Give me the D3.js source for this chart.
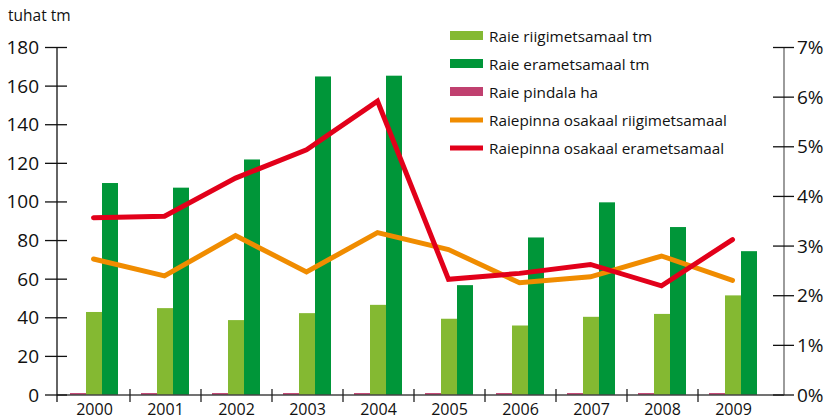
<!DOCTYPE html>
<html>
<head>
<meta charset="utf-8">
<script src="https://cdn.jsdelivr.net/npm/d3@7"></script>
<style>
  body { margin: 0; background: #fff; }
  text { font-family: "Open Sans", "DejaVu Sans", sans-serif; fill: #111; }
</style>
</head>
<body>
<svg id="chart" width="827" height="419"></svg>
<script>
const years = ["2000", "2001", "2002", "2003", "2004", "2005", "2006", "2007", "2008", "2009"];
const raieRiik = [43, 45, 38.8, 42.4, 46.7, 39.5, 36, 40.5, 42, 51.6];
const raieEra = [109.8, 107.4, 122, 165, 165.4, 56.9, 81.6, 99.8, 87, 74.5];
const raiePindala = [1, 1, 1, 1, 1, 1, 1, 1, 1, 1];
const osakaalRiik = [2.74, 2.40, 3.21, 2.48, 3.27, 2.93, 2.26, 2.38, 2.80, 2.31];
const osakaalEra = [3.57, 3.60, 4.37, 4.94, 5.92, 2.33, 2.45, 2.63, 2.20, 3.13];
const leftTicks = [0, 20, 40, 60, 80, 100, 120, 140, 160, 180];
const rightTicks = [0, 1, 2, 3, 4, 5, 6, 7];

const colors = {
  riik: "#84b932",
  era: "#009639",
  pind: "#c0406f",
  oRiik: "#f08c00",
  oEra: "#e2001a"
};

const svg = d3.select("#chart");

const x = d3.scaleBand().domain(years).range([59, 769]).padding(0);
const yL = d3.scaleLinear().domain([0, 180]).range([395, 47.5]);
const yR = d3.scaleLinear().domain([0, 7]).range([395, 47.5]);

const series = ["pind", "riik", "era"];
const xs = d3.scaleBand().domain(series).range([11, 59]).padding(0);

const barData = years.map((yr, i) => ({ yr, pind: raiePindala[i], riik: raieRiik[i], era: raieEra[i] }));

// bars
const groups = svg.append("g").selectAll("g").data(barData).enter().append("g")
  .attr("transform", d => `translate(${x(d.yr)},0)`);
series.forEach(s => {
  groups.append("rect")
    .attr("x", xs(s))
    .attr("width", xs.bandwidth())
    .attr("y", d => yL(d[s]))
    .attr("height", d => yL(0) - yL(d[s]))
    .attr("fill", colors[s]);
});

// x axis line and ticks
svg.append("line").attr("x1", 57).attr("x2", 784).attr("y1", 395).attr("y2", 395)
  .attr("stroke", "#444").attr("stroke-width", 1.3);
svg.append("g").selectAll("line").data(years.slice(1)).enter().append("line")
  .attr("x1", d => x(d)).attr("x2", d => x(d))
  .attr("y1", 389).attr("y2", 402)
  .attr("stroke", "#222").attr("stroke-width", 1.3);
svg.append("g").selectAll("text").data(years).enter().append("text")
  .attr("x", d => x(d) + x.bandwidth() / 2)
  .attr("y", 415)
  .attr("text-anchor", "middle")
  .attr("font-size", 16)
  .text(d => d);

// left axis
const gl = svg.append("g");
gl.append("line").attr("x1", 57).attr("x2", 57).attr("y1", 47.5).attr("y2", 402)
  .attr("stroke", "#111").attr("stroke-width", 1.3);
gl.selectAll("line.t").data(leftTicks).enter().append("line").attr("class", "t")
  .attr("x1", 45).attr("x2", 67)
  .attr("y1", d => yL(d)).attr("y2", d => yL(d))
  .attr("stroke", "#111").attr("stroke-width", 1.3);
gl.selectAll("text").data(leftTicks).enter().append("text")
  .attr("x", 39).attr("y", d => yL(d) + 6.5)
  .attr("text-anchor", "end")
  .attr("font-size", 19)
  .text(d => d);
svg.append("text").attr("x", 8).attr("y", 21).attr("font-size", 15.5).text("tuhat tm");

// right axis
const gr = svg.append("g");
gr.append("line").attr("x1", 784).attr("x2", 784).attr("y1", 47.5).attr("y2", 395)
  .attr("stroke", "#666").attr("stroke-width", 1.3);
gr.selectAll("line.t").data(rightTicks).enter().append("line").attr("class", "t")
  .attr("x1", 773).attr("x2", 794)
  .attr("y1", d => yR(d)).attr("y2", d => yR(d))
  .attr("stroke", "#111").attr("stroke-width", 1.3);
gr.selectAll("text").data(rightTicks).enter().append("text")
  .attr("x", 797).attr("y", d => yR(d) + 6.5)
  .attr("font-size", 19)
  .text(d => d + "%");

// lines
const line = d3.line()
  .x((d, i) => x(years[i]) + x.bandwidth() / 2 - 1)
  .y(d => yR(d));
svg.append("path").datum(osakaalRiik).attr("d", line)
  .attr("fill", "none").attr("stroke", colors.oRiik).attr("stroke-width", 5)
  .attr("stroke-linecap", "round").attr("stroke-linejoin", "miter");
svg.append("path").datum(osakaalEra).attr("d", line)
  .attr("fill", "none").attr("stroke", colors.oEra).attr("stroke-width", 5)
  .attr("stroke-linecap", "round").attr("stroke-linejoin", "miter");

// legend
const legendItems = [
  { label: "Raie riigimetsamaal tm", color: colors.riik, type: "bar" },
  { label: "Raie erametsamaal tm", color: colors.era, type: "bar" },
  { label: "Raie pindala ha", color: colors.pind, type: "bar" },
  { label: "Raiepinna osakaal riigimetsamaal", color: colors.oRiik, type: "line" },
  { label: "Raiepinna osakaal erametsamaal", color: colors.oEra, type: "line" }
];
const lg = svg.append("g").selectAll("g").data(legendItems).enter().append("g")
  .attr("transform", (d, i) => `translate(450,${36 + i * 28})`);
lg.append("rect")
  .attr("x", 0).attr("width", 33)
  .attr("y", d => d.type === "bar" ? -5 : -2.5)
  .attr("height", d => d.type === "bar" ? 9 : 5)
  .attr("fill", d => d.color);
lg.append("text").attr("x", 39).attr("y", 5.5).attr("font-size", 15.3).text(d => d.label);
</script>
</body>
</html>
